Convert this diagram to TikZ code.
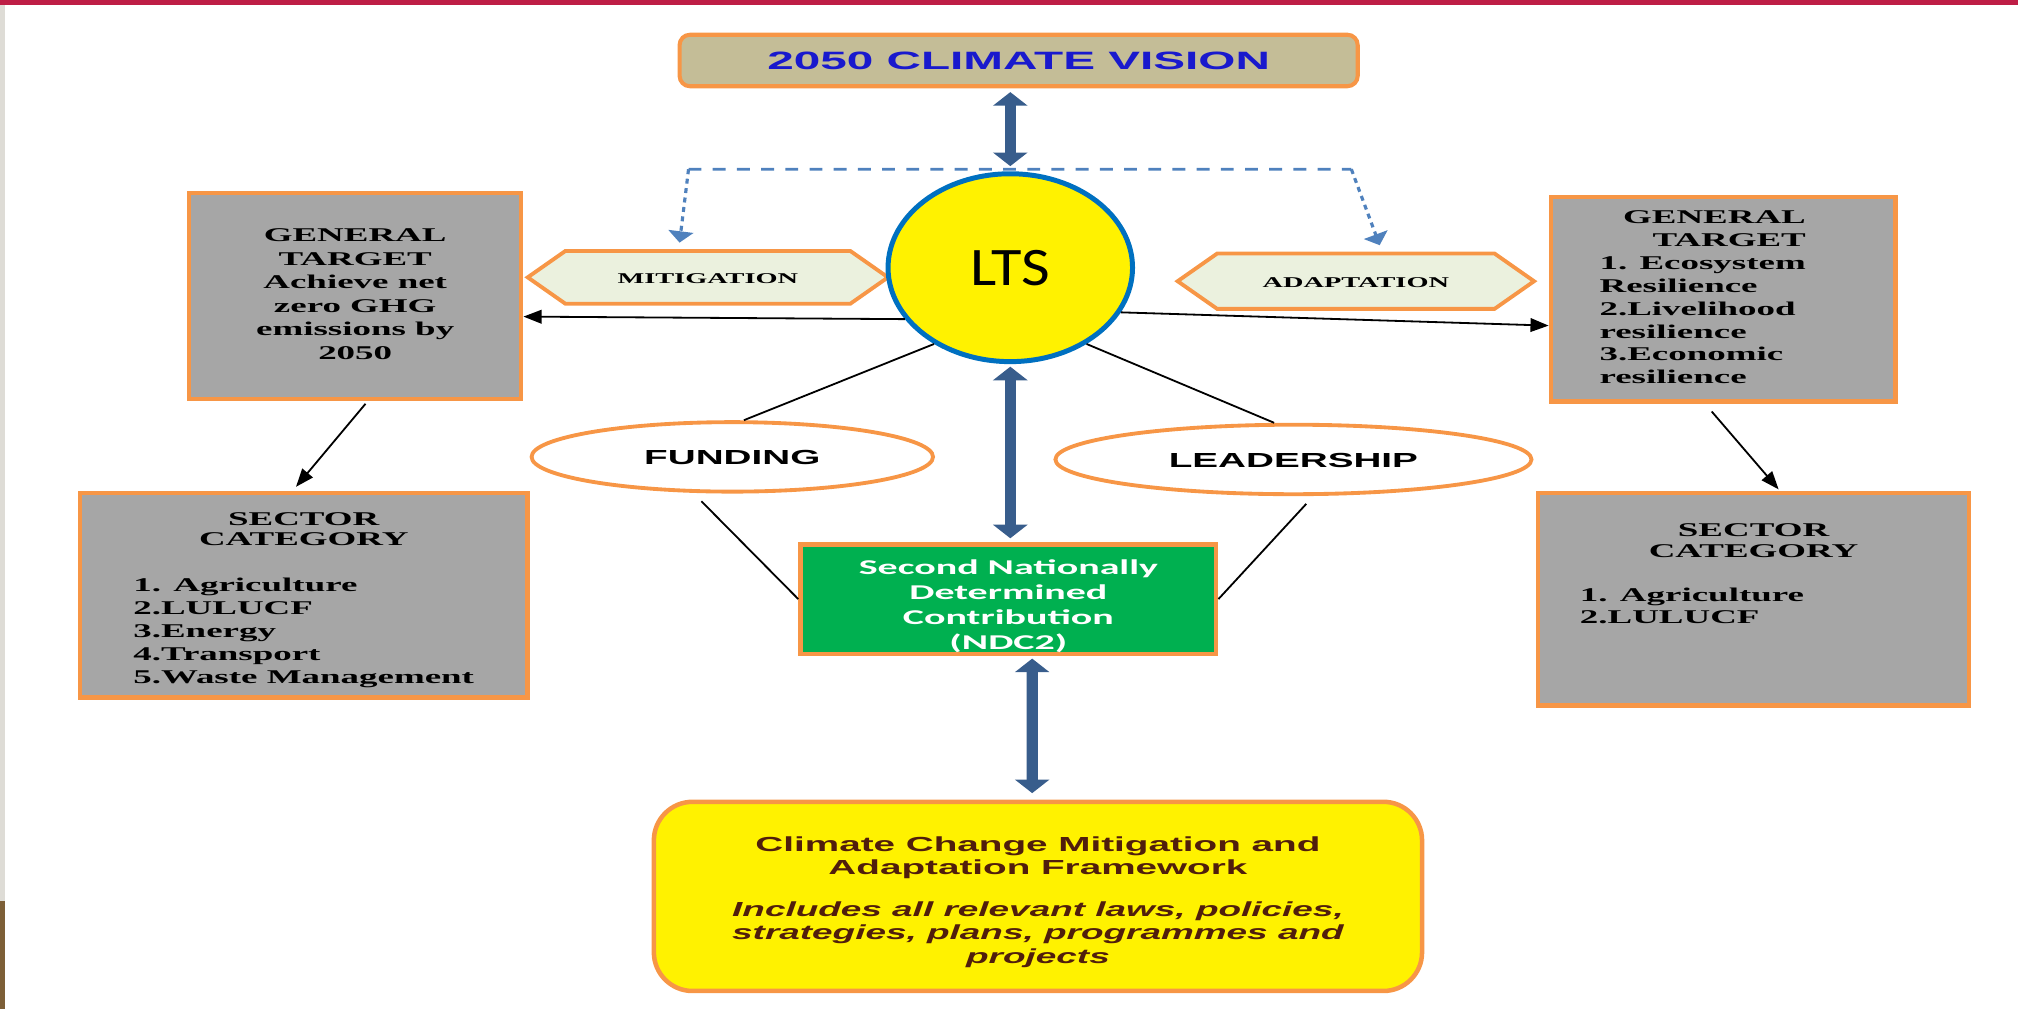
\documentclass[tikz,border=0pt]{standalone}
\usetikzlibrary{calc,shapes.geometric,shapes.symbols,arrows.meta,positioning}
\usepackage{graphicx,xcolor}
\usepackage{fontspec}
\setmainfont{Liberation Serif}
\newfontfamily\arialfont{Liberation Sans}
\newfontfamily\califont{Carlito}

\definecolor{topred}{RGB}{190,30,70}
\definecolor{edgegray}{RGB}{222,220,214}
\definecolor{edgebrown}{RGB}{125,95,55}
\definecolor{boxorange}{RGB}{247,150,70}
\definecolor{visiontan}{RGB}{196,189,151}
\definecolor{visionblue}{RGB}{25,25,205}
\definecolor{arrowblue}{RGB}{56,93,140}
\definecolor{dashblue}{RGB}{79,129,189}
\definecolor{ltsblue}{RGB}{0,112,192}
\definecolor{hexfill}{RGB}{235,241,222}
\definecolor{boxgray}{RGB}{166,166,166}
\definecolor{ndcgreen}{RGB}{0,176,80}
\definecolor{framebrown}{RGB}{80,30,12}

% wide text, the picture is stretched sideways
\newcommand{\xstr}{1.9}
\newcommand{\wtxt}[2][c]{\scalebox{\xstr}[1]{\begin{tabular}{@{}#1@{}}#2\end{tabular}}}
\newcommand{\ittxt}[1]{{\itshape\scalebox{0.955}[1]{#1}}}

\begin{document}
\begin{tikzpicture}[x=0.02cm, y=-0.02cm]
    \tikzset{>=latex}
    \tikzset{
      visionbox/.style = {rectangle, rounded corners = 0.16cm, draw = boxorange, line width = 1.8pt, fill = visiontan, text = visionblue, inner sep = 0pt, text depth = 0pt, minimum width = 10.54cm, minimum height = 0.8cm, font = \arialfont\bfseries\fontsize{11.1}{12}\selectfont},
      ltscircle/.style = {ellipse, draw = ltsblue, line width = 2.2pt, fill = yellow, inner sep = 0pt, text depth = 0pt, minimum width = 3.8cm, minimum height = 2.92cm, font = \califont\fontsize{24}{26}\selectfont},
      hexbox/.style = {signal, signal to = east and west, signal pointer angle = 70, draw = boxorange, line width = 1.7pt, fill = hexfill, inner sep = 0pt, text depth = 0pt, minimum height = 0.82cm, font = \bfseries\fontsize{6.6}{8}\selectfont},
      graybox/.style = {rectangle, draw = boxorange, line width = 2pt, fill = boxgray, inner sep = 0pt, font = \bfseries\fontsize{8.6}{10.1}\selectfont},
      graytext/.style = {inner sep = 0pt, font = \bfseries\fontsize{8.6}{10.1}\selectfont},
      ovalbox/.style = {ellipse, draw = boxorange, line width = 1.7pt, fill = white, inner sep = 0pt, text depth = 0pt, minimum height = 1.08cm, font = \arialfont\bfseries\fontsize{9}{10}\selectfont},
      ndcbox/.style = {rectangle, draw = boxorange, line width = 2pt, fill = ndcgreen, text = white, inner sep = 0pt, minimum width = 6.46cm, minimum height = 1.7cm, font = \califont\bfseries\fontsize{9.3}{11}\selectfont},
      framebox/.style = {rectangle, rounded corners = 0.6cm, draw = boxorange, line width = 2pt, fill = yellow, text = framebrown, inner sep = 0pt, minimum width = 11.94cm, minimum height = 2.94cm, font = \arialfont\bfseries\fontsize{9}{10.4}\selectfont},
      fatarrow/.style = {draw = arrowblue, line width = 5pt, {Triangle[width=15pt,length=6pt]}-{Triangle[width=15pt,length=6pt]}},
      dashline/.style = {draw = dashblue, line width = 1.2pt, dash pattern = on 5.7pt off 5pt},
      dashdrop/.style = {draw = dashblue, line width = 1.4pt, dash pattern = on 2.2pt off 2pt, -{Triangle[width=11pt,length=5pt]}},
      thinarrow/.style = {draw = black, line width = 0.8pt, -{Triangle[width=6pt,length=8pt]}},
      thinline/.style = {draw = black, line width = 0.8pt}
    }

    \useasboundingbox (0,0) rectangle (1568,784);
    % page edges
    \fill[topred] (0,0) rectangle (1568,3.5);
    \fill[edgegray] (0,3.5) rectangle (3.5,700);
    \fill[edgebrown] (0,700) rectangle (3.5,784);

    \node[visionbox] (vision) at (791.5,47) {\wtxt{2050 CLIMATE VISION}};

    \node[hexbox, minimum width = 5.6cm] (mitig) at (550,215.5) {\wtxt{MITIGATION}};
    \node[hexbox, minimum width = 5.54cm, minimum height = 0.86cm] (adapt) at (1053.5,218.5) {\wtxt{ADAPTATION}};

    \node[ltscircle] (lts) at (785,208) {\scalebox{1.15}[1]{LTS}};

    \node[graybox, minimum width = 5.16cm, minimum height = 3.2cm, font = \bfseries\fontsize{8.6}{10.4}\selectfont] (gtl) at (276,230) {\wtxt{GENERAL\\TARGET\\Achieve net\\zero GHG\\emissions by\\2050}};
    \node[graybox, minimum width = 5.36cm, minimum height = 3.18cm] (gtr) at (1339,232.5) {};
    \node[graytext] (gtrtext) at ($(gtr)+(-16,0)$) {\wtxt[l]{\multicolumn{1}{@{}r@{}}{GENERAL}\\\multicolumn{1}{@{}r@{}}{TARGET}\\1. Ecosystem\\Resilience\\2.Livelihood\\resilience\\3.Economic\\resilience}};

    \node[graybox, minimum width = 6.96cm, minimum height = 3.18cm] (secl) at (236,462.5) {};
    \node[graytext, anchor = north] (secltext) at ($(secl.north)+(0,14)$) {\wtxt[l]{\multicolumn{1}{@{}c@{}}{SECTOR}\\[-1.1pt]\multicolumn{1}{@{}c@{}}{CATEGORY}\\[10.4pt]1. Agriculture\\2.LULUCF\\3.Energy\\4.Transport\\5.Waste Management}};
    \node[graybox, minimum width = 6.7cm, minimum height = 3.3cm] (secr) at (1362.5,465.5) {};
    \node[graytext, anchor = north] (secrhead) at ($(secr.north)+(0,23)$) {\wtxt{SECTOR\\[-1.1pt]CATEGORY}};
    \node[graytext, anchor = north west] (secrlist) at ($(secr.north west)+(34,73)$) {\wtxt[l]{1. Agriculture\\2.LULUCF}};

    \node[ovalbox, minimum width = 6.24cm] (fund) at (569,355) {\wtxt{FUNDING}};
    \node[ovalbox, minimum width = 7.4cm] (lead) at (1005,357) {\wtxt{LEADERSHIP}};

    \node[ndcbox] (ndc) at (783.5,465.5) {\raisebox{-3.5pt}[\height][\depth]{\wtxt{Second Nationally\\Determined\\Contribution\\(NDC2)}}};

    \node[framebox] (frame) at (806.5,696.5) {\raisebox{-2.8pt}[\height][\depth]{\wtxt{Climate Change Mitigation and\\Adaptation Framework\\[8pt]\ittxt{Includes all relevant laws, policies,}\\\ittxt{strategies, plans, programmes and}\\\ittxt{projects}}}};

    % main spine
    \draw[fatarrow] ($(lts.north |- vision.south)+(0,3)$) -- ($(lts.north)+(0,-4)$);
    \draw[fatarrow] ($(lts.south)+(0,2)$) -- ($(ndc.north -| lts.south)+(0,-3)$);
    \draw[fatarrow] ($(ndc.south)+(18.5,2)$) -- ($(frame.north)+(-4.5,-5)$);

    % dashed split over the circle
    \coordinate (dashL) at ($(mitig.north)+(-15,-62)$);
    \coordinate (dashR) at ($(adapt.north)+(-3.5,-64)$);
    \draw[dashline] (dashL) -- (dashR);
    \draw[dashdrop] (dashL) -- ($(mitig.north)+(-22,-5)$);
    \draw[dashdrop] (dashR) -- ($(adapt.north)+(18.5,-5)$);

    \draw[thinarrow] (lts.206) -- ($(gtl.east)+(0,16)$);
    \draw[thinarrow] (lts.-22) -- ($(gtr.west)+(0,20.5)$);
    \draw[thinarrow] ($(gtl.south)+(8,2)$) -- ($(secl.north)+(-6,-3)$);
    \draw[thinarrow] ($(gtr.south)+(-9,6)$) -- ($(secr.north)+(19.5,-1)$);

    \draw[thinline] (lts.225) -- ($(fund.north)+(9,0)$);
    \draw[thinline] (lts.-45) -- ($(lead.north)+(-15,0)$);
    \draw[thinline] ($(fund.south)+(-24,6)$) -- (ndc.west);
    \draw[thinline] ($(lead.south)+(10,6)$) -- (ndc.east);
\end{tikzpicture}
\end{document}
